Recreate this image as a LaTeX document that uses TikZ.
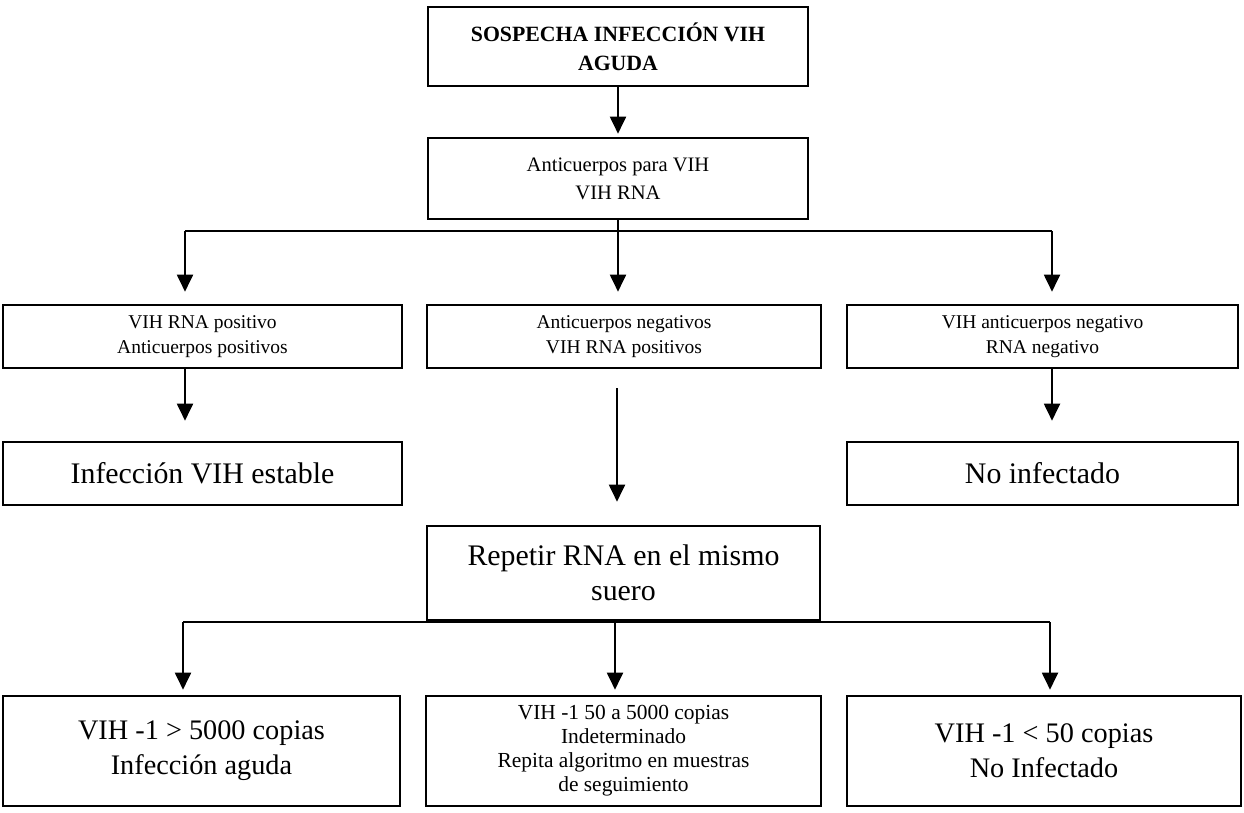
\documentclass[tikz,border=0pt]{standalone}
\usepackage{fontspec}
\setmainfont{Liberation Serif}
\usetikzlibrary{arrows.meta}

\begin{document}
\begin{tikzpicture}[x=0.02cm, y=-0.02cm,
  caja/.style={draw, line width=1.5pt, align=center, inner sep=2pt},
  flecha/.style={line width=1.1pt, -{Triangle[length=0.34cm, width=0.32cm]}},
  linea/.style={line width=1.1pt}]
  \useasboundingbox (0,0) rectangle (1244,812);
  % cajas superiores
  \node[caja, minimum width=7.6cm, minimum height=1.58cm, font=\fontsize{12.4}{16.5}\selectfont\bfseries] (sosp) at (618,46.5) {SOSPECHA INFECCIÓN VIH\\AGUDA};
  \node[caja, minimum width=7.6cm, minimum height=1.62cm, font=\fontsize{11.7}{16}\selectfont] (anti) at (618,178.5) {Anticuerpos para VIH\\VIH RNA};
  % resultados
  \node[caja, minimum width=7.98cm, minimum height=1.26cm, font=\fontsize{11.1}{14.2}\selectfont] (rnapos) at (202.5,336.5) {VIH RNA positivo\\Anticuerpos positivos};
  \node[caja, minimum width=7.88cm, minimum height=1.26cm, font=\fontsize{11.1}{14.2}\selectfont] (acneg) at (624,336.5) {Anticuerpos negativos\\VIH RNA positivos};
  \node[caja, minimum width=7.82cm, minimum height=1.26cm, font=\fontsize{11.1}{14.2}\selectfont] (todoneg) at (1042.5,336.5) {VIH anticuerpos negativo\\RNA negativo};
  \node[caja, minimum width=7.98cm, minimum height=1.26cm, font=\fontsize{17}{20}\selectfont] (estable) at (202.5,473.5) {Infección VIH estable};
  \node[caja, minimum width=7.82cm, minimum height=1.26cm, font=\fontsize{17}{20}\selectfont] (noinf) at (1042.5,473.5) {No infectado};
  \node[caja, minimum width=7.86cm, minimum height=1.88cm, font=\fontsize{17}{20}\selectfont] (repetir) at (623.5,573) {Repetir RNA en el mismo\\suero};
  % cajas finales
  \node[caja, minimum width=7.94cm, minimum height=2.2cm, font=\fontsize{16.1}{20}\selectfont] (aguda) at (201.5,751) {VIH -1 > 5000 copias\\Infección aguda};
  \node[caja, minimum width=7.9cm, minimum height=2.2cm, font=\fontsize{12.2}{13.7}\selectfont] (indet) at (623.5,751) {VIH -1 50 a 5000 copias\\Indeterminado\\Repita algoritmo en muestras\\de seguimiento};
  \node[caja, minimum width=7.88cm, minimum height=2.2cm, font=\fontsize{16.1}{20}\selectfont] (menos) at (1044,751) {VIH -1 < 50 copias\\No Infectado};
  % conectores
  \coordinate (r1) at (618,231);
  \coordinate (r1i) at (185,231);
  \coordinate (r1d) at (1052,231);
  \coordinate (m1) at (617,388);
  \coordinate (r2) at (615,622);
  \coordinate (r2i) at (183,622);
  \coordinate (r2d) at (1050,622);
  \draw[flecha, shorten >=0.06cm] (sosp) -- (anti);
  \draw[linea] (anti) -- (r1);
  \draw[linea] (r1i) -- (r1d);
  \draw[flecha, shorten >=0.24cm] (r1i) -- (r1i |- rnapos.north);
  \draw[flecha, shorten >=0.24cm] (r1) -- (r1 |- acneg.north);
  \draw[flecha, shorten >=0.24cm] (r1d) -- (r1d |- todoneg.north);
  \draw[flecha, shorten >=0.4cm] (r1i |- rnapos.south) -- (r1i |- estable.north);
  \draw[flecha, shorten >=0.4cm] (r1d |- todoneg.south) -- (r1d |- noinf.north);
  \draw[flecha, shorten >=0.46cm] (m1) -- (m1 |- repetir.north);
  \draw[linea] (r2i) -- (r2d);
  \draw[flecha, shorten >=0.1cm] (r2i) -- (r2i |- aguda.north);
  \draw[flecha, shorten >=0.1cm] (r2) -- (r2 |- indet.north);
  \draw[flecha, shorten >=0.1cm] (r2d) -- (r2d |- menos.north);
\end{tikzpicture}
\end{document}
